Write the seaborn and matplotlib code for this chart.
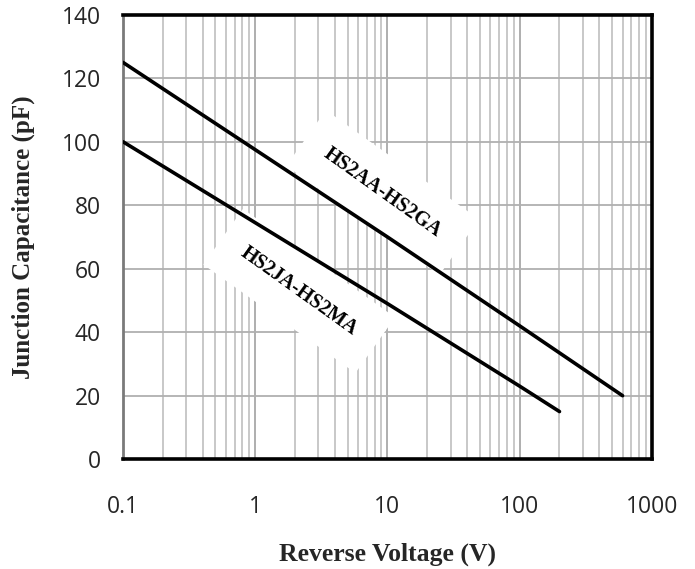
import numpy as np
import pandas as pd
import matplotlib
matplotlib.use("Agg")
import matplotlib.pyplot as plt
import seaborn as sns

# values
volts_a = [0.1, 1, 10, 100, 600]
cap_a = [125, 97.5, 70, 42, 20]
volts_j = [0.1, 1, 10, 100, 200]
cap_j = [100, 74.5, 49, 23, 15]
series_names = ["HS2AA-HS2GA", "HS2JA-HS2MA"]
x_ticks = [0.1, 1, 10, 100, 1000]
x_tick_labels = ["0.1", "1", "10", "100", "1000"]
y_ticks = [0, 20, 40, 60, 80, 100, 120, 140]

df = pd.DataFrame({
    "voltage": volts_a + volts_j,
    "capacitance": cap_a + cap_j,
    "series": [series_names[0]] * len(volts_a) + [series_names[1]] * len(volts_j),
})

sns.set_style("white")
fig = plt.figure(figsize=(6.95, 5.69), dpi=100)
ax = fig.add_axes([0.177, 0.193, 0.761, 0.781])

# grid first
for dec in [0.1, 1, 10, 100]:
    for m in range(2, 10):
        ax.axvline(dec * m, color="#c4c4c4", lw=1.3, zorder=0)
for dec in x_ticks:
    ax.axvline(dec, color="#a8a8a8", lw=1.3, zorder=0)
for yv in y_ticks[1:]:
    ax.axhline(yv, color="#b0b0b0", lw=1.3, zorder=0)

sns.lineplot(data=df, x="voltage", y="capacitance", units="series", estimator=None,
             color="black", lw=2.6, legend=False, ax=ax, zorder=3)

ax.set_xscale("log")
ax.set_xlim(0.1, 1000)
ax.set_ylim(0, 140)
ax.set_xticks(x_ticks)
ax.set_xticklabels(x_tick_labels)
ax.xaxis.set_minor_locator(matplotlib.ticker.NullLocator())
ax.set_yticks(y_ticks)

ax.tick_params(axis="x", length=0, pad=26, labelsize=16.5)
ax.tick_params(axis="y", length=6, width=1.2, color="#888888", direction="out",
               pad=10, labelsize=16.5)
for lab in ax.get_xticklabels() + ax.get_yticklabels():
    lab.set_family("Open Sans")

for side in ["top", "right", "bottom"]:
    ax.spines[side].set_color("black")
    ax.spines[side].set_linewidth(2.6)
ax.spines["left"].set_color("#7a7a7a")
ax.spines["left"].set_linewidth(2)

ax.set_xlabel("Reverse Voltage (V)", family="Liberation Serif", weight="bold",
              fontsize=18.5, labelpad=17)
ax.set_ylabel("Junction Capacitance (pF)", family="Liberation Serif", weight="bold",
              fontsize=18, labelpad=19)

box = dict(boxstyle="square,pad=1.2", fc="white", ec="none")
ax.text(9.2, 84, series_names[0], rotation=-35.5, ha="center", va="center",
        family="Liberation Serif", weight="bold", fontsize=14.5, color="black",
        bbox=box, zorder=2)
ax.text(2.15, 53, series_names[1], rotation=-35.5, ha="center", va="center",
        family="Liberation Serif", weight="bold", fontsize=14.5, color="black",
        bbox=box, zorder=2)

fig.savefig("out.png", dpi=100)
